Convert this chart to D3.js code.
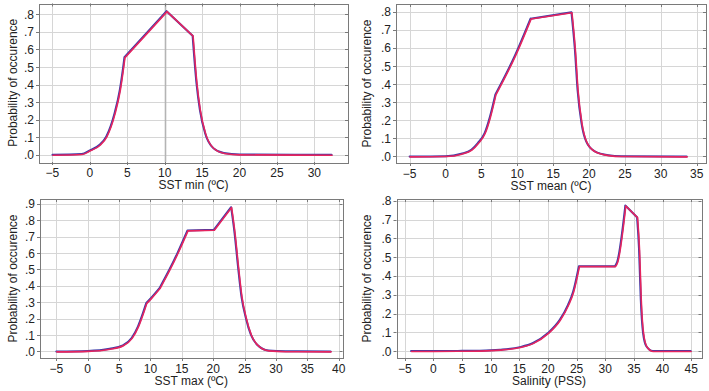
<!DOCTYPE html>
<html lang="en">
<head>
<meta charset="UTF-8" />
<title>Probability of occurence</title>
<script src="https://cdn.jsdelivr.net/npm/d3@7"></script>
<style>
  body { margin: 0; background: #fff; }
  svg { display: block; font-family: "Liberation Sans", Arial, sans-serif; }
  .grid line { stroke: #d6d6d6; stroke-width: 1; }
  .frame { fill: none; stroke: #7a7a7a; stroke-width: 1; }
  .tick-label { font-size: 12px; fill: #222; }
  .axis-title { font-size: 12px; fill: #222; }
</style>
</head>
<body>
<svg id="chart" width="709" height="391"></svg>
<script>
// SST min
var sstMinX = [-5, -1.1, 0, 1.3, 2.2, 3.3, 4.0, 4.45, 4.62, 7.5, 10.25, 13.73, 14.25, 14.7, 15.4, 16.5, 17.9, 20, 32.3];
var sstMinY = [0, 0.004, 0.025, 0.057, 0.105, 0.237, 0.37, 0.50, 0.556, 0.69, 0.818, 0.678, 0.407, 0.256, 0.123, 0.038, 0.01, 0.002, 0];

// SST mean
var sstMeanX = [-5, 0, 2.2, 3.6, 4.5, 5.45, 6.2, 6.95, 9.7, 11.85, 17.55, 18.03, 18.4, 18.95, 19.6, 20.8, 22.7, 24.5, 33.6];
var sstMeanY = [0, 0.002, 0.015, 0.037, 0.074, 0.129, 0.221, 0.343, 0.56, 0.762, 0.797, 0.59, 0.368, 0.184, 0.083, 0.028, 0.007, 0.002, 0];

// SST max
var sstMaxX = [-5, 0, 3.5, 5.6, 7.0, 8.0, 8.8, 9.33, 10.1, 11.44, 13.0, 14.3, 15.9, 20.1, 22.85, 23.4, 23.95, 24.5, 25.2, 26.0, 27.0, 28.8, 31.5, 38.7];
var sstMaxY = [0, 0.003, 0.016, 0.037, 0.082, 0.152, 0.234, 0.295, 0.326, 0.386, 0.498, 0.60, 0.738, 0.742, 0.88, 0.722, 0.518, 0.335, 0.204, 0.102, 0.041, 0.006, 0.001, 0];

// Salinity
var salX = [-3.9, 0, 5, 8.1, 11.6, 15.1, 17.4, 20.0, 22.06, 23.5, 24.4, 25.4, 31.7, 32.1, 33.5, 35.55, 35.9, 36.2, 36.6, 37.2, 38.3, 44.9];
var salY = [0, 0, 0.001, 0.002, 0.007, 0.021, 0.043, 0.096, 0.166, 0.246, 0.317, 0.452, 0.452, 0.477, 0.775, 0.713, 0.539, 0.273, 0.096, 0.024, 0, 0];

var yTicks8 = [0, 0.1, 0.2, 0.3, 0.4, 0.5, 0.6, 0.7, 0.8];
var yTicks9 = [0, 0.1, 0.2, 0.3, 0.4, 0.5, 0.6, 0.7, 0.8, 0.9];
var xTicks30 = [-5, 0, 5, 10, 15, 20, 25, 30];
var xTicks35 = [-5, 0, 5, 10, 15, 20, 25, 30, 35];
var xTicks40 = [-5, 0, 5, 10, 15, 20, 25, 30, 35, 40];
var xTicks45 = [-5, 0, 5, 10, 15, 20, 25, 30, 35, 40, 45];

var xTitles = ["SST min (ºC)", "SST mean (ºC)", "SST max (ºC)", "Salinity (PSS)"];
var yTitle = "Probability of occurence";

// breaks = indices of sharp corners; the curve is smoothed between them
var panels = [
  { xs: sstMinX, ys: sstMinY, breaks: [8, 10, 11], left: 39, right: 348, top: 3.5, bottom: 162,
    xDom: [-6.8, 34.5], yDom: [-0.041, 0.862], xt: xTicks30, yt: yTicks8, title: xTitles[0], titleX: 13, ref: 10 },
  { xs: sstMeanX, ys: sstMeanY, breaks: [7, 9, 10], left: 396, right: 706, top: 4, bottom: 163,
    xDom: [-6.9, 36.3], yDom: [-0.036, 0.843], xt: xTicks35, yt: yTicks8, title: xTitles[1], titleX: 367 },
  { xs: sstMaxX, ys: sstMaxY, breaks: [7, 9, 12, 13, 14], left: 40, right: 342.5, top: 199, bottom: 358,
    xDom: [-7.6, 40.6], yDom: [-0.04, 0.93], xt: xTicks40, yt: yTicks9, title: xTitles[2], titleX: 13 },
  { xs: salX, ys: salY, breaks: [11, 12, 14, 15], left: 396.5, right: 701.5, top: 199, bottom: 358,
    xDom: [-6.44, 46.8], yDom: [-0.037, 0.81], xt: xTicks45, yt: yTicks8, title: xTitles[3], titleX: 367 }
];

var svg = d3.select("#chart");
var fmtY = function(d) { return d3.format(".1f")(d).replace(/^0/, ""); };
var fmtX = function(d) { return d < 0 ? "\u2212" + Math.abs(d) : String(d); };

panels.forEach(function(p) {
  var x = d3.scaleLinear().domain(p.xDom).range([p.left, p.right]);
  var y = d3.scaleLinear().domain(p.yDom).range([p.bottom, p.top]);
  var g = svg.append("g");

  var grid = g.append("g").attr("class", "grid");
  grid.selectAll(".gx").data(p.xt).enter().append("line")
    .attr("x1", function(d) { return Math.round(x(d)) + 0.5; })
    .attr("x2", function(d) { return Math.round(x(d)) + 0.5; })
    .attr("y1", p.top).attr("y2", p.bottom);
  grid.selectAll(".gy").data(p.yt).enter().append("line")
    .attr("y1", function(d) { return Math.round(y(d)) + 0.5; })
    .attr("y2", function(d) { return Math.round(y(d)) + 0.5; })
    .attr("x1", p.left).attr("x2", p.right);

  if (p.ref !== undefined) {
    g.append("line")
      .attr("x1", Math.round(x(p.ref)) + 0.5).attr("x2", Math.round(x(p.ref)) + 0.5)
      .attr("y1", p.top).attr("y2", p.bottom)
      .attr("stroke", "#b4b4b4").attr("stroke-width", 1.6);
  }

  // ticks: out on left/bottom, in on top/right
  var tk = g.append("g").attr("stroke", "#7a7a7a");
  p.xt.forEach(function(d) {
    var xx = Math.round(x(d)) + 0.5;
    tk.append("line").attr("x1", xx).attr("x2", xx).attr("y1", p.bottom).attr("y2", p.bottom + 3);
    tk.append("line").attr("x1", xx).attr("x2", xx).attr("y1", p.top).attr("y2", p.top + 3);
  });
  p.yt.forEach(function(d) {
    var yy = Math.round(y(d)) + 0.5;
    tk.append("line").attr("x1", p.left - 3).attr("x2", p.left).attr("y1", yy).attr("y2", yy);
    tk.append("line").attr("x1", p.right - 3).attr("x2", p.right).attr("y1", yy).attr("y2", yy);
  });

  g.append("rect").attr("class", "frame")
    .attr("x", Math.round(p.left) + 0.5).attr("y", Math.round(p.top) + 0.5)
    .attr("width", Math.round(p.right - p.left)).attr("height", Math.round(p.bottom - p.top));

  g.selectAll(".xl").data(p.xt).enter().append("text")
    .attr("class", "tick-label")
    .attr("x", function(d) { return x(d); })
    .attr("y", p.bottom + 14.5)
    .attr("text-anchor", "middle")
    .text(fmtX);
  g.selectAll(".yl").data(p.yt).enter().append("text")
    .attr("class", "tick-label")
    .attr("x", p.left - 5)
    .attr("y", function(d) { return y(d) + 4.5; })
    .attr("text-anchor", "end")
    .text(fmtY);

  g.append("text").attr("class", "axis-title")
    .attr("x", (p.left + p.right) / 2).attr("y", p.bottom + 27)
    .attr("text-anchor", "middle").text(p.title);
  g.append("text").attr("class", "axis-title")
    .attr("transform", "translate(" + (p.titleX + 4) + "," + ((p.top + p.bottom) / 2) + ") rotate(-90)")
    .attr("text-anchor", "middle").text(yTitle);

  var pts = p.xs.map(function(v, i) { return [v, p.ys[i]]; });
  var line = d3.line().curve(d3.curveMonotoneX)
    .x(function(d) { return x(d[0]); }).y(function(d) { return y(d[1]); });
  var cuts = [0].concat(p.breaks, [pts.length - 1]);
  var dStr = "";
  for (var i = 0; i < cuts.length - 1; i++) {
    dStr += line(pts.slice(cuts[i], cuts[i + 1] + 1));
  }
  g.append("path").attr("d", dStr)
    .attr("fill", "none").attr("stroke", "#3b3ba8").attr("stroke-width", 2)
    .attr("stroke-linecap", "round");
  g.append("path").attr("d", dStr)
    .attr("transform", "translate(0.5,0.4)")
    .attr("fill", "none").attr("stroke", "#e6245e").attr("stroke-width", 1.6)
    .attr("stroke-linecap", "round");
});
</script>
</body>
</html>
